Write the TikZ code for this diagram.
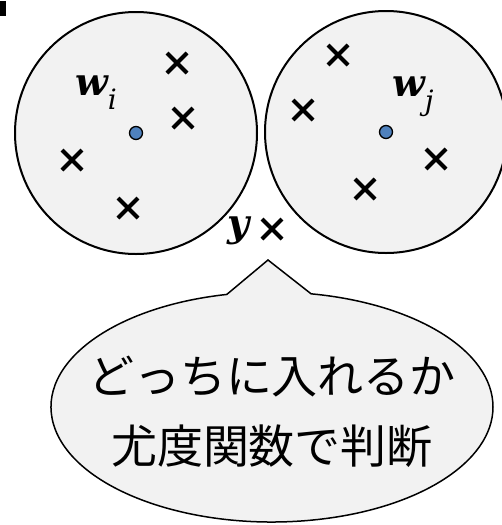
\documentclass[tikz,border=0pt]{standalone}
\usepackage{fontspec}
\newfontfamily\cjk{Noto Sans CJK JP}
\newfontfamily\lbfont{DejaVu Serif}
\usepackage{tikz}
\usetikzlibrary{shapes.misc, shapes.callouts}

\definecolor{bggray}{HTML}{F2F2F2}
\definecolor{dotblue}{HTML}{4F81BD}

% bold italic vector with an italic index
\newcommand{\vecsub}[2]{{\bfseries\itshape #1}\raisebox{-14pt}{\fontsize{28}{30}\selectfont\itshape #2}}

\begin{document}
\begin{tikzpicture}[
  x=1pt, y=-1pt,
  cluster/.style={circle, draw, line width=2pt, fill=bggray,
                  minimum size=242pt, inner sep=0pt},
  sample/.style={cross out, draw, line width=4pt, minimum size=16pt,
                 inner sep=0pt},
  centre/.style={circle, draw, fill=dotblue, line width=1.3pt,
                 minimum size=13pt, inner sep=0pt},
  lbl/.style={font=\lbfont\fontsize{38}{40}\selectfont, inner sep=0pt},
  bubble/.style={ellipse callout, draw, line width=1.5pt, fill=bggray,
                 minimum width=442pt, minimum height=230pt, inner sep=0pt,
                 callout pointer arc=22},
  question/.style={align=center, inner sep=0pt,
                   font=\cjk\fontsize{46}{70}\selectfont}
]
  \useasboundingbox (0,0) rectangle (502,525);
  \fill (0,1) rectangle (6,16);

  % clusters
  \node[cluster] (ci) at (136,133) {};
  \node[cluster] (cj) at (386,132) {};

  % centres
  \node[centre] (wi) at (ci.center) {};
  \node[centre] (wj) at (cj.center) {};
  \node[lbl, anchor=base west] (wilbl) at (75,95) {\vecsub{w}{i}};
  \node[lbl, anchor=base west] (wjlbl) at (392,96) {\vecsub{w}{j}};

  % samples in cluster i
  \node[sample] (i1) at (177,63) {};
  \node[sample] (i2) at (183,118) {};
  \node[sample] (i3) at (72,160) {};
  \node[sample] (i4) at (128,208) {};

  % samples in cluster j
  \node[sample] (j1) at (338,55) {};
  \node[sample] (j2) at (303,110) {};
  \node[sample] (j3) at (436,159) {};
  \node[sample] (j4) at (365,189) {};

  % new point
  \node[sample] (ynew) at (272,229) {};
  \node[lbl, anchor=base] (ylbl) at (239,236) {\bfseries\itshape y};

  % question
  \coordinate (tip) at (268,260);
  \node[bubble, callout absolute pointer=(tip)] (talk) at (272,407) {};
  \node[question] (qtext) at (272,412) {どっちに入れるか\\尤度関数で判断};
\end{tikzpicture}
\end{document}
